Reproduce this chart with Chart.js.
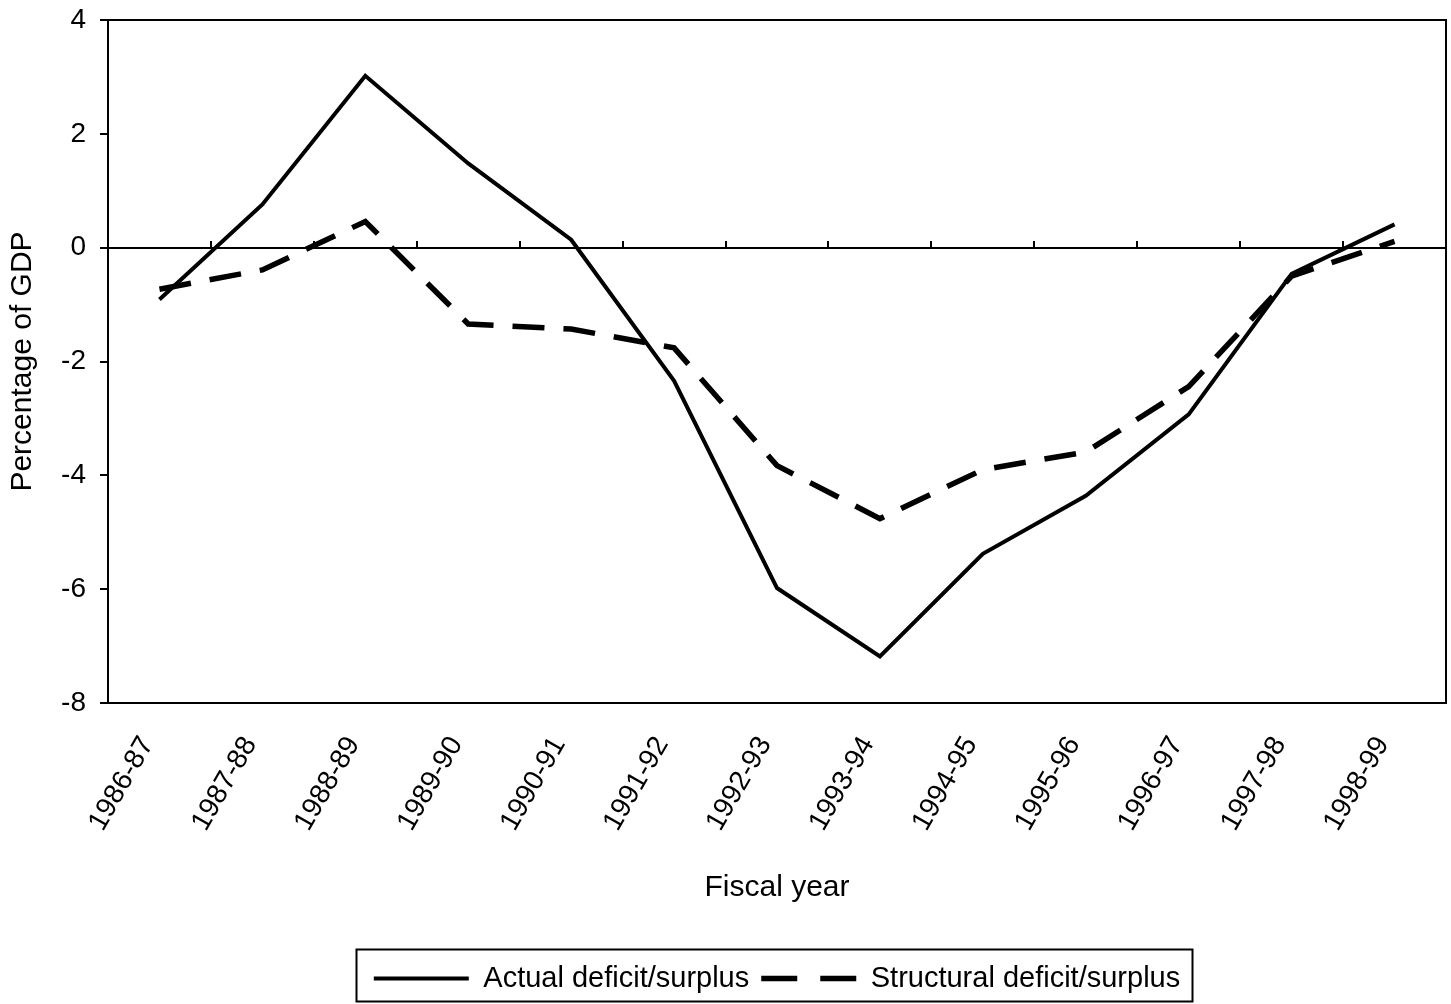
<!DOCTYPE html>
<html>
<head>
<meta charset="utf-8">
<script src="https://cdn.jsdelivr.net/npm/chart.js@4/dist/chart.umd.min.js"></script>
<style>
  html, body { margin: 0; padding: 0; background: #fff; }
  #wrap { width: 1451px; height: 1004px; }
</style>
</head>
<body>
<div id="wrap"><canvas id="c" width="1451" height="1004"></canvas></div>
<script>
// Fiscal years on the category axis
const fiscalYears = ['1986-87', '1987-88', '1988-89', '1989-90', '1990-91', '1991-92',
  '1992-93', '1993-94', '1994-95', '1995-96', '1996-97', '1997-98', '1998-99'];

// Budget balance, percentage of GDP
const actualBalance = [-0.91, 0.76, 3.02, 1.48, 0.14, -2.34, -5.98, -7.18, -5.38, -4.36, -2.93, -0.46, 0.41];
const structuralBalance = [-0.73, -0.39, 0.46, -1.34, -1.43, -1.76, -3.83, -4.76, -3.90, -3.59, -2.44, -0.50, 0.11];

// Value axis range
const yMin = -8;
const yMax = 4;
const yStep = 2;

const seriesNames = ['Actual deficit/surplus', 'Structural deficit/surplus'];

const baseFamily = '"Liberation Sans", Arial, Helvetica, sans-serif';

// Frame around the plot area and around the legend
const framePlugin = {
  id: 'frames',
  afterDatasetsDraw(chart) {
    const { ctx, chartArea: a } = chart;
    ctx.save();
    ctx.strokeStyle = '#000';
    ctx.lineWidth = 2;
    ctx.strokeRect(a.left, a.top, a.right - a.left, a.bottom - a.top);
    ctx.restore();
  },
  afterDraw(chart) {
    const lg = chart.legend;
    if (!lg || !lg.legendHitBoxes || !lg.legendHitBoxes.length) return;
    let l = Infinity, r = -Infinity;
    lg.legendHitBoxes.forEach(b => { l = Math.min(l, b.left); r = Math.max(r, b.left + b.width); });
    const { ctx } = chart;
    ctx.save();
    ctx.strokeStyle = '#000';
    ctx.lineWidth = 2;
    ctx.strokeRect(Math.round(l - 18) + 0.5, Math.round(lg.top - 3) + 0.5,
      Math.round(r - l + 30), Math.round(lg.bottom - lg.top + 1));
    ctx.restore();
  }
};

// Axes report no extra edge padding, so the plot area follows layout.padding
function noEdgePadding(scale) {
  scale.paddingLeft = 0;
  scale.paddingRight = 0;
  scale.paddingTop = 0;
  scale.paddingBottom = 0;
}

new Chart(document.getElementById('c'), {
  type: 'line',
  data: {
    labels: fiscalYears,
    datasets: [
      {
        label: seriesNames[0],
        data: actualBalance,
        borderColor: '#000',
        backgroundColor: '#000',
        borderWidth: 4,
        pointRadius: 0,
        tension: 0,
        fill: false
      },
      {
        label: seriesNames[1],
        data: structuralBalance,
        borderColor: '#000',
        backgroundColor: '#000',
        borderWidth: 5.5,
        borderDash: [32, 19],
        pointRadius: 0,
        tension: 0,
        fill: false
      }
    ]
  },
  options: {
    responsive: false,
    animation: false,
    events: [],
    layout: { padding: { top: 20, right: 5, left: 0, bottom: 1 } },
    plugins: {
      tooltip: { enabled: false },
      legend: {
        position: 'bottom',
        fullSize: false,
        align: 'center',
        labels: {
          color: '#000',
          font: { family: baseFamily, size: 29 },
          usePointStyle: true,
          pointStyle: 'line',
          pointStyleWidth: 95,
          padding: 12,
          generateLabels(chart) {
            const items = Chart.defaults.plugins.legend.labels.generateLabels(chart);
            return items.map(item => {
              const ds = chart.data.datasets[item.datasetIndex];
              // legend sample shows two long dashes
              item.lineDash = ds.borderDash ? [36, 23] : [];
              item.lineWidth = ds.borderWidth;
              item.pointStyle = 'line';
              return item;
            });
          }
        }
      }
    },
    scales: {
      x: {
        type: 'category',
        position: 'bottom',
        offset: true,
        grid: { display: false, drawTicks: false },
        border: { display: true, color: '#000', width: 2 },
        ticks: {
          color: '#000',
          font: { family: baseFamily, size: 28 },
          minRotation: 60,
          maxRotation: 60,
          autoSkip: false,
          padding: 28,
          labelOffset: -12
        },
        title: {
          display: true,
          text: 'Fiscal year',
          color: '#000',
          font: { family: baseFamily, size: 30 },
          padding: { top: 0, bottom: 46 }
        },
        afterFit(scale) { noEdgePadding(scale); scale.height = 249; }
      },
      xZero: {
        type: 'category',
        position: { y: 0 },
        offset: true,
        grid: {
          offset: true,
          drawOnChartArea: false,
          drawTicks: true,
          tickLength: -8,
          color: '#000',
          lineWidth: 2
        },
        border: { display: true, color: '#000', width: 2 },
        ticks: { display: false },
        afterFit: noEdgePadding
      },
      y: {
        type: 'linear',
        position: 'left',
        min: yMin,
        max: yMax,
        ticks: {
          stepSize: yStep,
          color: '#000',
          font: { family: baseFamily, size: 28 },
          padding: 14
        },
        grid: {
          drawOnChartArea: false,
          drawTicks: true,
          tickLength: 8,
          color: '#000',
          lineWidth: 2
        },
        border: { display: true, color: '#000', width: 2 },
        title: {
          display: true,
          text: 'Percentage of GDP',
          color: '#000',
          font: { family: baseFamily, size: 30 },
          padding: { top: 5, bottom: 0 }
        },
        afterFit(scale) { noEdgePadding(scale); scale.width = 108; }
      }
    }
  },
  plugins: [framePlugin]
});
</script>
</body>
</html>
